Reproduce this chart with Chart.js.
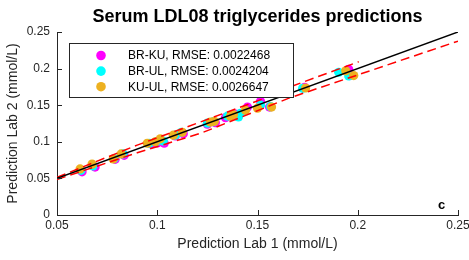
<!DOCTYPE html>
<html>
<head>
<meta charset="utf-8">
<script src="https://cdn.jsdelivr.net/npm/chart.js@4/dist/chart.umd.min.js"></script>
<style>
  html, body { margin: 0; padding: 0; background: #fff; }
  #wrap { width: 469px; height: 260px; }
</style>
</head>
<body>
<div id="wrap"><canvas id="chart" width="469" height="260"></canvas></div>
<script>
// Series labels (legend)
const seriesLabels = [
    'BR-KU, RMSE: 0.0022468',
    'BR-UL, RMSE: 0.0024204',
    'KU-UL, RMSE: 0.0026647'
];
const seriesColors = ['#ff00ff', '#00ffff', '#edb120'];

// Lab 1 / Lab 2 predictions per pair (mmol/L)
const brKuX = [0.0625, 0.069, 0.079, 0.0835, 0.097, 0.1, 0.1035, 0.109, 0.113, 0.125, 0.129, 0.134, 0.139, 0.145, 0.1515, 0.156, 0.1735, 0.1955, 0.196];
const brKuY = [0.059, 0.0655, 0.076, 0.0815, 0.097, 0.0985, 0.098, 0.108, 0.111, 0.124, 0.126, 0.133, 0.138, 0.1475, 0.1555, 0.1475, 0.1745, 0.199, 0.1905];
const brUlX = [0.062, 0.068, 0.0785, 0.083, 0.096, 0.0995, 0.103, 0.109, 0.112, 0.125, 0.128, 0.135, 0.1405, 0.1415, 0.1515, 0.1565, 0.1725, 0.1905, 0.1955];
const brUlY = [0.061, 0.067, 0.077, 0.0835, 0.098, 0.1, 0.101, 0.109, 0.113, 0.1255, 0.1275, 0.135, 0.134, 0.139, 0.15, 0.148, 0.173, 0.195, 0.19];
const kuUlX = [0.0615, 0.0675, 0.078, 0.082, 0.095, 0.099, 0.1015, 0.108, 0.1125, 0.1265, 0.1285, 0.1365, 0.138, 0.144, 0.15, 0.157, 0.174, 0.194, 0.198];
const kuUlY = [0.063, 0.0695, 0.0765, 0.0835, 0.098, 0.1, 0.104, 0.109, 0.113, 0.127, 0.128, 0.135, 0.137, 0.143, 0.146, 0.1475, 0.1735, 0.197, 0.1905];

// Reference lines
const identityX = [0.05, 0.25];
const identityY = [0.05, 0.25];
const upperBoundX = [0.05, 0.09, 0.122, 0.152, 0.1665, 0.2005];
const upperBoundY = [0.0515, 0.0955, 0.1275, 0.158, 0.1753, 0.2094];
const lowerBoundX = [0.05, 0.09, 0.122, 0.166, 0.25];
const lowerBoundY = [0.0485, 0.085, 0.112, 0.16, 0.2375];

// Tick labels
const xTicks = [0.05, 0.1, 0.15, 0.2, 0.25];
const yTicks = [0, 0.05, 0.1, 0.15, 0.2, 0.25];

const FONT = "'Liberation Sans', Arial, Helvetica, sans-serif";
const AXIS = '#262626';

const toPoints = (xs, ys) => xs.map((x, i) => ({ x: x, y: ys[i] }));

const scatterSet = (idx, xs, ys, order) => ({
    label: seriesLabels[idx],
    data: toPoints(xs, ys),
    backgroundColor: seriesColors[idx],
    borderWidth: 0,
    pointRadius: 4.6,
    pointHoverRadius: 4.6,
    order: order
});

const lineSet = (xs, ys, color, dash) => ({
    data: toPoints(xs, ys),
    showLine: true,
    borderColor: color,
    borderWidth: 1.5,
    borderDash: dash,
    pointRadius: 0,
    fill: false,
    order: 0
});

// Inward ticks, legend box and panel letter
const overlayPlugin = {
    id: 'overlay',
    afterDraw(chart) {
        const ctx = chart.ctx;
        const xs = chart.scales.x, ys = chart.scales.y;
        const area = chart.chartArea;
        ctx.save();
        ctx.strokeStyle = AXIS;
        ctx.lineWidth = 1;
        ctx.beginPath();
        xTicks.forEach(v => {
            const px = Math.round(xs.getPixelForValue(v)) + 0.5;
            ctx.moveTo(px, area.bottom);
            ctx.lineTo(px, area.bottom - 5);
        });
        yTicks.forEach(v => {
            const py = Math.round(ys.getPixelForValue(v)) + 0.5;
            ctx.moveTo(area.left, py);
            ctx.lineTo(area.left + 5, py);
        });
        ctx.stroke();

        // legend
        ctx.fillStyle = '#fff';
        ctx.fillRect(69.5, 43.5, 224, 54);
        ctx.strokeRect(69.5, 43.5, 224, 54);
        ctx.font = '12px ' + FONT;
        ctx.textBaseline = 'middle';
        ctx.textAlign = 'left';
        seriesLabels.forEach((label, i) => {
            const cy = 55.5 + i * 15.6;
            ctx.fillStyle = seriesColors[i];
            ctx.beginPath();
            ctx.arc(101, cy, 4.8, 0, Math.PI * 2);
            ctx.fill();
            ctx.fillStyle = '#000';
            ctx.fillText(label, 128, cy + 0.5);
        });

        // panel letter
        ctx.font = 'bold 13px ' + FONT;
        ctx.textAlign = 'center';
        ctx.textBaseline = 'alphabetic';
        ctx.fillStyle = '#000';
        ctx.fillText('c', 441.5, 208.5);
        ctx.restore();
    }
};

new Chart(document.getElementById('chart'), {
    type: 'scatter',
    data: {
        datasets: [
            lineSet(identityX, identityY, '#000', []),
            lineSet(upperBoundX, upperBoundY, '#ff0000', [9, 5]),
            lineSet(lowerBoundX, lowerBoundY, '#ff0000', [9, 5]),
            scatterSet(2, kuUlX, kuUlY, 1),
            scatterSet(1, brUlX, brUlY, 2),
            scatterSet(0, brKuX, brKuY, 3)
        ]
    },
    options: {
        responsive: false,
        animation: false,
        events: [],
        layout: { padding: { left: 0, right: 11, top: 0, bottom: 0 } },
        plugins: {
            legend: { display: false },
            tooltip: { enabled: false },
            title: {
                display: true,
                fullSize: false,
                text: 'Serum LDL08 triglycerides predictions',
                color: '#000',
                font: { family: FONT, size: 18, weight: 'bold', lineHeight: 1.2 },
                padding: { top: 6, bottom: 4.4 }
            }
        },
        scales: {
            x: {
                type: 'linear',
                min: 0.05,
                max: 0.25,
                afterBuildTicks: s => { s.ticks = xTicks.map(v => ({ value: v })); },
                afterFit: s => { s.height = 45; s.paddingLeft = 0; s.paddingRight = 0; },
                grid: { display: false, drawTicks: false },
                border: { display: true, color: AXIS, width: 1 },
                ticks: {
                    color: AXIS,
                    padding: 3,
                    maxRotation: 0,
                    autoSkip: false,
                    font: { family: FONT, size: 12 },
                    callback: v => String(v)
                },
                title: {
                    display: true,
                    text: 'Prediction Lab 1 (mmol/L)',
                    color: AXIS,
                    font: { family: FONT, size: 14 },
                    padding: { top: 0, bottom: 7.5 }
                }
            },
            y: {
                type: 'linear',
                min: 0,
                max: 0.25,
                afterBuildTicks: s => { s.ticks = yTicks.map(v => ({ value: v })); },
                afterFit: s => { s.width = 57; s.paddingTop = 0; s.paddingBottom = 0; },
                grid: { display: false, drawTicks: false },
                border: { display: true, color: AXIS, width: 1 },
                ticks: {
                    color: AXIS,
                    padding: 7,
                    autoSkip: false,
                    font: { family: FONT, size: 12 },
                    callback: v => String(v)
                },
                title: {
                    display: true,
                    text: 'Prediction Lab 2 (mmol/L)',
                    color: AXIS,
                    font: { family: FONT, size: 14 },
                    padding: { top: 5, bottom: 0 }
                }
            }
        }
    },
    plugins: [overlayPlugin]
});
</script>
</body>
</html>
